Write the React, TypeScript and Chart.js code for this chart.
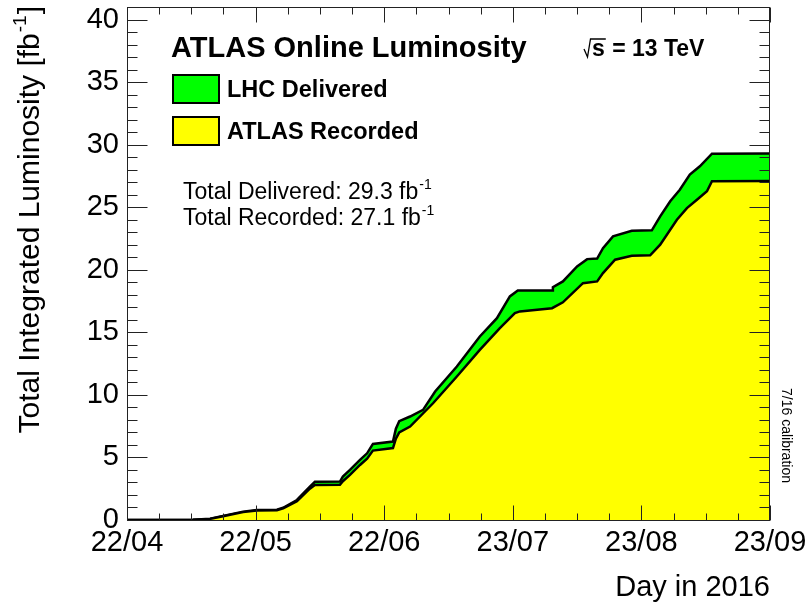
import React, { useEffect, useRef } from "react";
import { Chart, registerables } from "chart.js";

Chart.register(...registerables);

// ---- data (days since 22/04/2016, integrated luminosity in fb^-1) ----
const deliveredDays = [0, 15.8, 19.9, 23.0, 27.8, 31.1, 35.9, 37.4, 40.7, 43.8, 45.0, 51.0, 51.7, 53.4, 55.8, 57.5, 58.9, 63.7, 64.4, 65.2, 67.8, 70.9, 73.8, 79.0, 84.5, 88.6, 91.7, 93.6, 101.8, 102.0, 104.4, 107.8, 110.2, 112.6, 114.0, 116.4, 120.9, 125.7, 127.7, 130.1, 132.4, 134.8, 137.2, 140.1, 154];
const deliveredLumi = [0, 0.02, 0.1, 0.32, 0.67, 0.8, 0.82, 0.98, 1.6, 2.67, 3.05, 3.07, 3.47, 4.0, 4.8, 5.33, 6.08, 6.27, 7.3, 7.9, 8.27, 8.8, 10.27, 12.27, 14.67, 16.13, 17.87, 18.35, 18.35, 18.6, 19.07, 20.27, 20.85, 20.9, 21.73, 22.67, 23.12, 23.15, 24.27, 25.47, 26.4, 27.6, 28.27, 29.28, 29.3];

const recordedDays = [0, 15.8, 19.9, 23.0, 27.8, 31.1, 35.9, 37.4, 40.7, 43.8, 45.0, 51.0, 51.7, 53.4, 55.8, 57.5, 58.9, 63.7, 64.4, 65.2, 67.8, 73.3, 79.0, 84.5, 89.3, 92.9, 94.1, 101.8, 104.4, 109.2, 112.6, 114.0, 116.9, 120.9, 125.3, 127.7, 131.7, 134.1, 136.5, 138.9, 140.1, 154];
const recordedLumi = [0, 0.02, 0.09, 0.3, 0.63, 0.76, 0.78, 0.93, 1.5, 2.5, 2.8, 2.82, 3.1, 3.6, 4.4, 4.9, 5.55, 5.75, 6.5, 7.0, 7.47, 9.33, 11.47, 13.6, 15.33, 16.53, 16.67, 16.93, 17.4, 18.93, 19.07, 19.73, 20.8, 21.12, 21.15, 22.0, 24.0, 24.93, 25.6, 26.27, 27.07, 27.1];

const xTickDays = [0, 30.8, 61.6, 92.4, 123.2, 154];
const xTickLabels = ["22/04", "22/05", "22/06", "23/07", "23/08", "23/09"];
const yTickValues = [0, 5, 10, 15, 20, 25, 30, 35, 40];

const FONT = "'Liberation Sans', Arial, Helvetica, sans-serif";

function drawSup(ctx: CanvasRenderingContext2D, base: string, sup: string, x: number, y: number, size: number, weight = "") {
  ctx.font = `${weight} ${size}px ${FONT}`;
  ctx.fillText(base, x, y);
  const w = ctx.measureText(base).width;
  ctx.font = `${weight} ${Math.round(size * 0.62)}px ${FONT}`;
  ctx.fillText(sup, x + w + 1, y - size * 0.45);
}

const overlay = {
  id: "atlasOverlay",
  afterDatasetsDraw(chart: any) {
    const { ctx, chartArea: a, scales } = chart;
    const xs = scales.x;
    const ys = scales.y;
    ctx.save();
    ctx.strokeStyle = "#222";
    ctx.lineWidth = 1;
    const L = Math.round(a.left) + 0.5;
    const R = Math.round(a.right) - 0.5;
    const T = Math.round(a.top) + 0.5;
    const B = Math.round(a.bottom) + 0.5;
    ctx.beginPath();
    for (let i = 0; i <= 20; i++) {
      const v = i * 7.7;
      const px = Math.round(xs.getPixelForValue(v)) + 0.5;
      const len = i % 4 === 0 ? 15 : 7;
      ctx.moveTo(px, B);
      ctx.lineTo(px, B - len);
      ctx.moveTo(px, T);
      ctx.lineTo(px, T + len);
    }
    for (let v = 0; v <= 41; v++) {
      const py = Math.round(ys.getPixelForValue(v)) + 0.5;
      const len = v % 5 === 0 ? 20 : 10;
      ctx.moveTo(L, py);
      ctx.lineTo(L + len, py);
      ctx.moveTo(R, py);
      ctx.lineTo(R - len, py);
    }
    ctx.stroke();
    ctx.strokeRect(L, T, R - L, B - T);
    ctx.restore();
  },
  afterDraw(chart: any) {
    const { ctx } = chart;
    ctx.save();
    ctx.fillStyle = "#000";
    ctx.textBaseline = "alphabetic";
    ctx.textAlign = "left";

    // Y axis title (rotated), with superscript
    {
      const size = 30;
      ctx.font = `${size}px ${FONT}`;
      const t1 = "Total Integrated Luminosity [fb";
      const w1 = ctx.measureText(t1).width;
      ctx.font = `${Math.round(size * 0.62)}px ${FONT}`;
      const w2 = ctx.measureText("-1").width;
      ctx.font = `${size}px ${FONT}`;
      const w3 = ctx.measureText("]").width;
      const total = w1 + w2 + 2 + w3;
      ctx.save();
      ctx.translate(39, 6 + total);
      ctx.rotate(-Math.PI / 2);
      ctx.fillText(t1, 0, 0);
      ctx.font = `${Math.round(size * 0.62)}px ${FONT}`;
      ctx.fillText("-1", w1 + 1, -size * 0.45);
      ctx.font = `${size}px ${FONT}`;
      ctx.fillText("]", w1 + w2 + 2, 0);
      ctx.restore();
    }

    // Title
    ctx.font = `bold 29px ${FONT}`;
    ctx.fillText("ATLAS Online Luminosity", 171, 57);

    // sqrt(s) = 13 TeV
    {
      ctx.font = `bold 23px ${FONT}`;
      const sx = 592;
      const sw = ctx.measureText("s").width;
      ctx.beginPath();
      ctx.lineWidth = 1.3;
      ctx.strokeStyle = "#000";
      ctx.moveTo(584, 49);
      ctx.lineTo(587.5, 57);
      ctx.lineTo(590.5, 39);
      ctx.lineTo(sx + sw + 1, 39);
      ctx.stroke();
      ctx.fillText("s", sx, 56);
      ctx.fillText(" = 13 TeV", sx + sw + 1, 56);
    }

    // Legend boxes
    ctx.lineWidth = 2;
    ctx.strokeStyle = "#000";
    ctx.fillStyle = "#00ff00";
    ctx.fillRect(173, 75, 46, 28);
    ctx.strokeRect(173, 75, 46, 28);
    ctx.fillStyle = "#ffff00";
    ctx.fillRect(173, 117, 46, 28);
    ctx.strokeRect(173, 117, 46, 28);
    ctx.fillStyle = "#000";
    ctx.font = `bold 23.5px ${FONT}`;
    ctx.fillText("LHC Delivered", 227, 97);
    ctx.fillText("ATLAS Recorded", 227, 139);

    // Totals
    drawSup(ctx, "Total Delivered: 29.3 fb", "-1", 183, 199, 23);
    drawSup(ctx, "Total Recorded: 27.1 fb", "-1", 183, 225, 23);

    // calibration note
    ctx.save();
    ctx.font = `14px ${FONT}`;
    ctx.translate(782, 388);
    ctx.rotate(Math.PI / 2);
    ctx.fillText("7/16 calibration", 0, 0);
    ctx.restore();

    ctx.restore();
  },
};

export default function App() {
  const ref = useRef<HTMLCanvasElement | null>(null);
  useEffect(() => {
    document.body.style.margin = "0";
    const canvas = ref.current!;
    const chart = new Chart(canvas, {
      type: "line",
      data: {
        datasets: [
          {
            label: "ATLAS Recorded",
            data: recordedDays.map((d, i) => ({ x: d, y: recordedLumi[i] })),
            borderColor: "#000",
            borderWidth: 2.5,
            backgroundColor: "#ffff00",
            fill: "origin",
            pointRadius: 0,
            tension: 0,
          },
          {
            label: "LHC Delivered",
            data: deliveredDays.map((d, i) => ({ x: d, y: deliveredLumi[i] })),
            borderColor: "#000",
            borderWidth: 2.5,
            backgroundColor: "#00ff00",
            fill: "origin",
            pointRadius: 0,
            tension: 0,
          },
        ],
      },
      options: {
        animation: false,
        responsive: false,
        layout: { padding: { left: 0, right: 37, top: 7, bottom: 0 }, autoPadding: false },
        plugins: { legend: { display: false }, tooltip: { enabled: false } },
        scales: {
          x: {
            type: "linear",
            min: 0,
            max: 154,
            afterBuildTicks: (s: any) => {
              s.ticks = xTickDays.map((v) => ({ value: v }));
            },
            afterFit: (s: any) => {
              s.height = 88;
              s.paddingLeft = 0;
              s.paddingRight = 0;
            },
            grid: { display: false, drawTicks: false },
            border: { display: false },
            ticks: {
              autoSkip: false,
              maxRotation: 0,
              padding: 6,
              color: "#000",
              font: { family: FONT, size: 29 },
              callback: (_v: any, i: number) => xTickLabels[i],
            },
            title: {
              display: true,
              text: "Day in 2016",
              align: "end",
              color: "#000",
              font: { family: FONT, size: 29 },
              padding: { top: 0, bottom: 3 },
            },
          },
          y: {
            min: 0,
            max: 41,
            afterBuildTicks: (s: any) => {
              s.ticks = yTickValues.map((v) => ({ value: v }));
            },
            afterFit: (s: any) => {
              s.width = 127;
              s.paddingTop = 0;
              s.paddingBottom = 0;
            },
            grid: { display: false, drawTicks: false },
            border: { display: false },
            ticks: {
              padding: 8,
              color: "#000",
              font: { family: FONT, size: 29 },
              callback: (v: any) => String(v),
            },
          },
        },
      },
      plugins: [overlay],
    } as any);
    return () => chart.destroy();
  }, []);
  return <canvas ref={ref} width={807} height={608} style={{ display: "block", width: "807px", height: "608px" }} />;
}
